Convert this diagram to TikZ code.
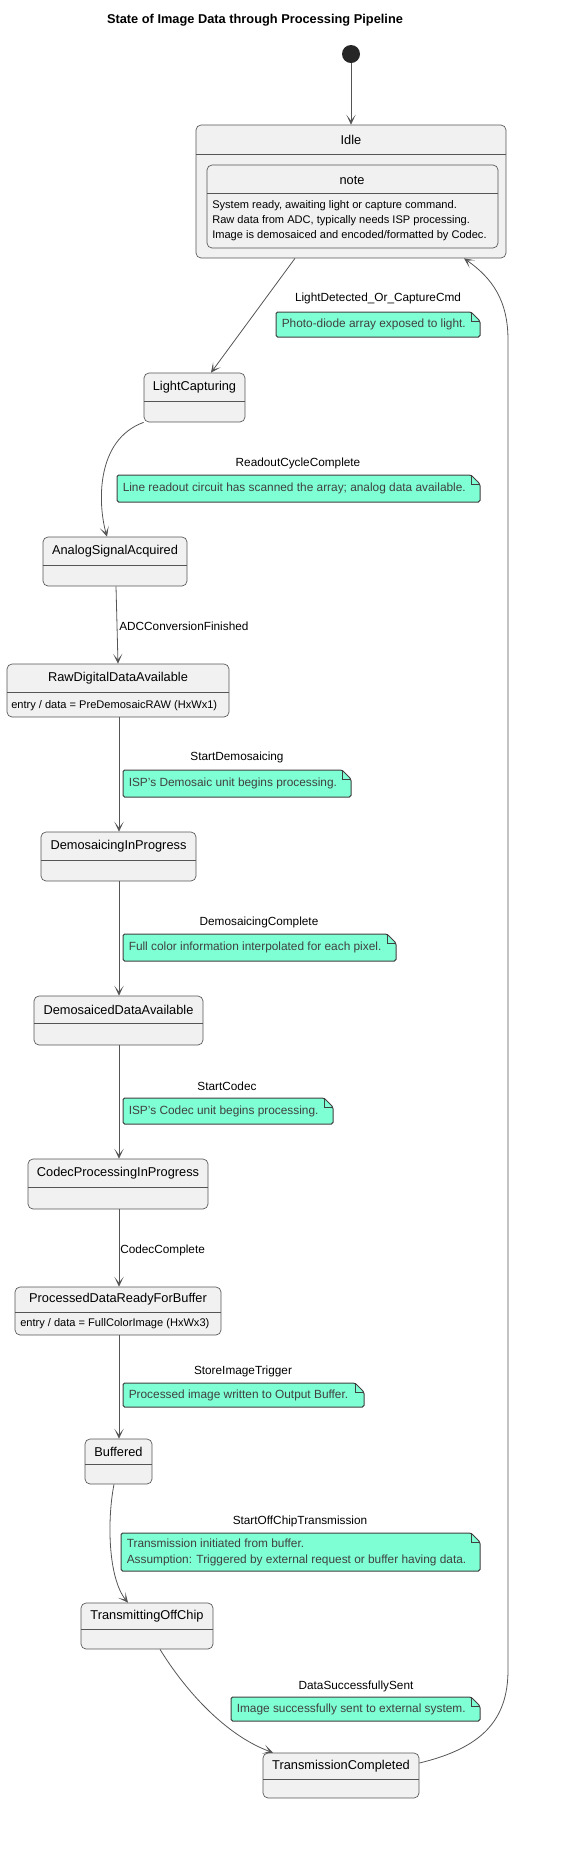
\documentclass[tikz,border=0pt]{standalone}
\usepackage{fontspec}
\setmainfont{Liberation Sans}
\usetikzlibrary{calc,shapes,arrows.meta,fit}

\definecolor{boxgray}{HTML}{F1F1F1}
\definecolor{linegray}{HTML}{555555}
\definecolor{notegreen}{HTML}{7FFFD4}
\definecolor{notetextgray}{HTML}{404040}

\tikzset{
  statebox/.style={draw=linegray, fill=boxgray, rounded corners=3.75pt, inner sep=0pt, line width=0.5pt},
  statename/.style={font=\fontsize{9.6}{11}\selectfont, inner sep=0pt},
  smalltext/.style={font=\fontsize{8.3}{11.25}\selectfont, inner sep=0pt, align=left},
  translabel/.style={font=\fontsize{8.85}{10}\selectfont, inner sep=0pt},
  notetxt/.style={font=\fontsize{8.9}{12}\selectfont, text=notetextgray, inner sep=0pt, align=left},
  notebox/.style={fill=notegreen, draw=notetextgray, line width=0.75pt, rounded corners=1.2pt},
  trans/.style={draw=linegray, line width=0.6pt, -{Stealth[length=7.5pt, width=7pt, inset=4.5pt]}},
}

\begin{document}
\begin{tikzpicture}[x=0.75pt, y=-0.75pt]
    \useasboundingbox (0,0) rectangle (570,1854);

    \node[font=\bfseries\fontsize{9.6}{11}\selectfont] (title) at (255,20) {State of Image Data through Processing Pipeline};

    % start point
    \node[circle, fill=black!85, minimum size=13.5pt, inner sep=0pt] (init) at (351,54) {};

    % states: name / left / top / right / bottom / header line / title
    \foreach \n/\xa/\ya/\xb/\yb/\hy/\t in {
        idle/196/125/506/258/154/Idle,
        lcap/144/373/245/422/401/LightCapturing,
        analog/43/537/187/586/565/AnalogSignalAcquired,
        rawdata/7/664/229/717/692/RawDigitalDataAvailable,
        demosaic/41/832/196/881/860/DemosaicingInProgress,
        demosaiced/34/996/203/1045/1023/DemosaicedDataAvailable,
        codec/28/1159/208/1209/1187/CodecProcessingInProgress,
        procdata/15/1287/221/1335/1312/ProcessedDataReadyForBuffer,
        buffered/85/1439/152/1484/1464/Buffered,
        transmit/81/1603/213/1649/1629/TransmittingOffChip,
        txdone/263/1753/419/1798/1779/TransmissionCompleted}
    {
        \node[statebox, fit={(\xa,\ya) (\xb,\yb)}] (\n) {};
        \draw[linegray, line width=0.5pt] (\xa,\hy) -- (\xb,\hy);
        \node[statename] (\n-name) at ({(\xa+\xb)/2},{(\ya+\hy)/2}) {\t};
    }

    % note inside Idle
    \node[statebox, fit={(207,165) (498,248)}] (idlenote) {};
    \draw[linegray, line width=0.5pt] (207,193) -- (498,193);
    \node[statename] (idlenote-name) at (352,180) {note};
    \node[smalltext, anchor=west] (idlenote-text) at (212,221) {System ready, awaiting light or capture command.\\Raw data from ADC, typically needs ISP processing.\\Image is demosaiced and encoded/formatted by Codec.};

    \node[smalltext, anchor=west] (rawdata-entry) at (11,706) {entry / data = PreDemosaicRAW (HxWx1)};
    \node[smalltext, anchor=west] (procdata-entry) at (20,1324) {entry / data = FullColorImage (HxWx3)};

    % transitions
    \draw[trans] (init) -- (idle.north);
    \draw[trans] (idle.south -| 295,0) -- (lcap.north -| 211,0);
    \draw[trans] (lcap.south west) .. controls (95,440) and (98,505) .. (analog.north -| 107,0);
    \draw[trans] (analog.south -| 116,0) -- (rawdata.north -| 118,0);
    \foreach \a/\b in {rawdata/demosaic, demosaic/demosaiced, demosaiced/codec, codec/procdata, procdata/buffered}
        \draw[trans] (\a.south -| 119,0) -- (\b.north -| 119,0);
    \draw[trans] (buffered.south -| 114,0) .. controls (107,1520) and (108,1578) .. (transmit.north -| 128,0);
    \draw[trans] (transmit.south -| 160,0) .. controls (185,1690) and (225,1735) .. (txdone.north -| 273,0);
    \draw[trans] (txdone.east |- 0,1763) .. controls (482,1748) and (508,1720) .. (508,1670) -- (508,340) .. controls (508,300) and (492,278) .. (idle.south -| 464,0);

    % transition labels
    \foreach \n/\x/\y/\t in {lbl-light/378/298/LightDetected\_Or\_CaptureCmd,
        lbl-readout/298/463/ReadoutCycleComplete,
        lbl-demstart/237/757/StartDemosaicing,
        lbl-demdone/259/922/DemosaicingComplete,
        lbl-codec/227/1086/StartCodec,
        lbl-store/243/1371/StoreImageTrigger,
        lbl-tx/300/1521/StartOffChipTransmission,
        lbl-sent/356/1686/DataSuccessfullySent}
        \node[translabel] (\n) at (\x,\y) {\t};
    \node[translabel, anchor=west] (lbl-adc) at (119,626) {ADCConversionFinished};
    \node[translabel, anchor=west] (lbl-codecdone) at (120,1250) {CodecComplete};

    % notes: name / left / top / right / bottom / text
    \foreach \n/\xa/\ya/\xb/\yb/\t in {
        note-light/276/312/480/337/{Photo-diode array exposed to light.},
        note-readout/117/475/480/502/{Line readout circuit has scanned the array; analog data available.},
        note-demstart/123/770/351/797/{ISP's Demosaic unit begins processing.},
        note-demdone/123/934/396/961/{Full color information interpolated for each pixel.},
        note-codec/123/1098/333/1124/{ISP's Codec unit begins processing.},
        note-store/123/1383/364/1407/{Processed image written to Output Buffer.},
        note-tx/121/1533/480/1571/{Transmission initiated from buffer.\\Assumption: Triggered by external request or buffer having data.},
        note-sent/231/1697/480/1721/{Image successfully sent to external system.}}
    {
        \filldraw[notebox] (\xa,\ya) -- (\xb-9,\ya) -- (\xb,\ya+9) -- (\xb,\yb) -- (\xa,\yb) -- cycle;
        \draw[notetextgray, line width=0.75pt] (\xb-9,\ya) -- (\xb-9,\ya+9) -- (\xb,\ya+9);
        \node[notetxt, anchor=west] (\n) at (\xa+5.5,{(\ya+\yb)/2}) {\t};
    }
\end{tikzpicture}
\end{document}
